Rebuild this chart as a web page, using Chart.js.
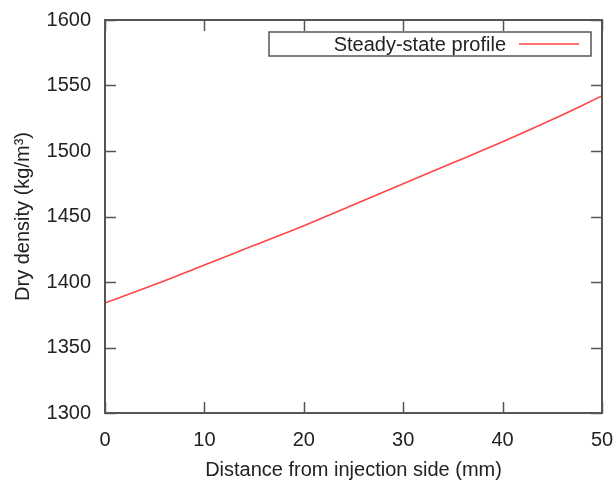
<!DOCTYPE html>
<html>
<head>
<meta charset="utf-8">
<script src="https://cdn.jsdelivr.net/npm/chart.js@4/dist/chart.umd.min.js"></script>
<style>
  html, body { margin: 0; padding: 0; background: #fff; }
  #wrap { width: 615px; height: 488px; }
</style>
</head>
<body>
<div id="wrap"><canvas id="c" width="615" height="488"></canvas></div>
<script>
// Steady-state dry density profile across the sample
const distanceMm = [0, 5, 10, 15, 20, 25, 30, 35, 40, 45, 50];
const dryDensity = [1384, 1398, 1413, 1428, 1443, 1459, 1475, 1491, 1507, 1524, 1542];
const xTicks = [0, 10, 20, 30, 40, 50];
const yTicks = [1300, 1350, 1400, 1450, 1500, 1550, 1600];
const seriesName = 'Steady-state profile';

const FONT = 'Liberation Sans, Arial, sans-serif';
const INK = '#222';
const FRAME = '#555';
const LINE = 'rgb(255,70,70)';

// Gnuplot-style frame with inward ticks mirrored on all four sides, plus key box
const framePlugin = {
  id: 'frame',
  afterDatasetsDraw(chart) {
    const { ctx, chartArea: a, scales } = chart;
    const t = 11;
    ctx.save();
    ctx.strokeStyle = FRAME;
    ctx.lineWidth = 1.5;
    ctx.beginPath();
    xTicks.forEach(v => {
      const px = Math.round(scales.x.getPixelForValue(v)) + 0.5;
      ctx.moveTo(px, a.bottom); ctx.lineTo(px, a.bottom - t);
      ctx.moveTo(px, a.top); ctx.lineTo(px, a.top + t);
    });
    yTicks.forEach(v => {
      const py = Math.round(scales.y.getPixelForValue(v)) + 0.5;
      ctx.moveTo(a.left, py); ctx.lineTo(a.left + t, py);
      ctx.moveTo(a.right, py); ctx.lineTo(a.right - t, py);
    });
    ctx.stroke();
    ctx.lineWidth = 2;
    ctx.strokeRect(a.left, a.top, a.right - a.left, a.bottom - a.top);

    // key
    const bx = a.right - 333, by = a.top + 12, bw = 322, bh = 24;
    ctx.fillStyle = '#fff';
    ctx.fillRect(bx, by, bw, bh);
    ctx.lineWidth = 1.5;
    ctx.strokeRect(bx, by, bw, bh);
    ctx.fillStyle = INK;
    ctx.font = '20px ' + FONT;
    ctx.textAlign = 'right';
    ctx.textBaseline = 'middle';
    ctx.fillText(chart.data.datasets[0].label, bx + 237, by + bh / 2 + 1);
    ctx.strokeStyle = LINE;
    ctx.lineWidth = 1.5;
    ctx.beginPath();
    ctx.moveTo(bx + 250, by + bh / 2);
    ctx.lineTo(bx + 310, by + bh / 2);
    ctx.stroke();
    ctx.restore();
  }
};

new Chart(document.getElementById('c'), {
  type: 'line',
  data: {
    datasets: [{
      label: seriesName,
      data: distanceMm.map((x, i) => ({ x, y: dryDensity[i] })),
      borderColor: LINE,
      borderWidth: 1.6,
      pointRadius: 0,
      tension: 0.4,
      fill: false
    }]
  },
  options: {
    responsive: false,
    animation: false,
    devicePixelRatio: 1,
    layout: { padding: { top: 20, right: 13, left: 0, bottom: 0 } },
    plugins: { legend: { display: false }, tooltip: { enabled: false } },
    scales: {
      x: {
        type: 'linear',
        min: 0, max: 50,
        afterBuildTicks: s => { s.ticks = xTicks.map(v => ({ value: v })); },
        afterFit: s => { s.height = 75; s.paddingLeft = 0; s.paddingRight = 0; },
        grid: { display: false, drawTicks: false },
        border: { display: false },
        ticks: { color: INK, font: { family: FONT, size: 20 }, padding: 15, maxRotation: 0,
                 callback: v => String(v) },
        title: {
          display: true,
          text: 'Distance from injection side (mm)',
          color: INK,
          font: { family: FONT, size: 20 },
          padding: { top: 6, bottom: 6 }
        }
      },
      y: {
        min: 1300, max: 1600,
        afterBuildTicks: s => { s.ticks = yTicks.map(v => ({ value: v })); },
        afterFit: s => { s.width = 105; s.paddingTop = 0; s.paddingBottom = 0; },
        grid: { display: false, drawTicks: false },
        border: { display: false },
        ticks: { color: INK, font: { family: FONT, size: 20 }, padding: 14,
                 callback: v => String(v) },
        title: {
          display: true,
          text: 'Dry density (kg/m³)',
          color: INK,
          font: { family: FONT, size: 20 },
          padding: { top: 11, bottom: 11 }
        }
      }
    }
  },
  plugins: [framePlugin]
});
</script>
</body>
</html>
